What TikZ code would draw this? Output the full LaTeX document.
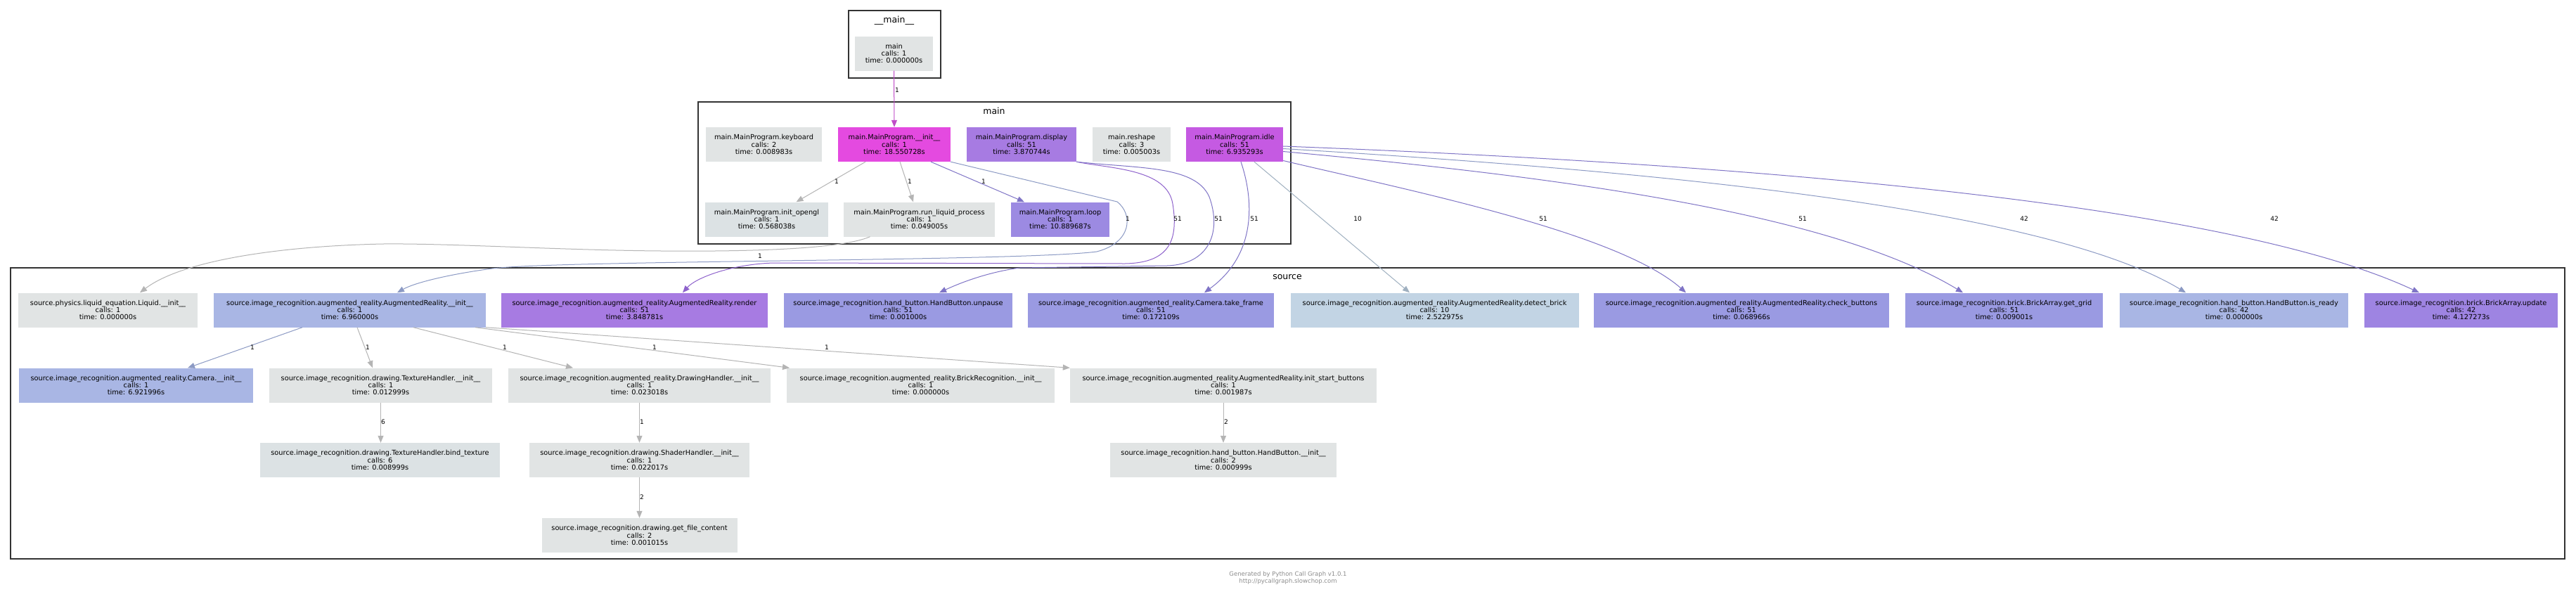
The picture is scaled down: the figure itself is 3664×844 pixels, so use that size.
\documentclass[tikz,border=0pt]{standalone}
\usepackage{fontspec}
\setmainfont{DejaVu Sans}
\usetikzlibrary{arrows.meta}
\definecolor{ngray}{HTML}{E1E4E4}
\definecolor{ngrayb}{HTML}{DCE2E4}
\definecolor{nmag}{HTML}{E44AE0}
\definecolor{nidle}{HTML}{C55AE2}
\definecolor{nviolet}{HTML}{A77BE2}
\definecolor{nloop}{HTML}{9C8AE2}
\definecolor{nperi}{HTML}{9A9AE2}
\definecolor{nsky}{HTML}{C2D4E4}
\definecolor{nlav}{HTML}{A9B6E4}
\definecolor{nupd}{HTML}{9E84E2}
\definecolor{egray}{HTML}{B4B4B4}
\definecolor{emag}{HTML}{C04CC8}
\definecolor{eviolet}{HTML}{8E62CC}
\definecolor{eperi}{HTML}{7F74C6}
\definecolor{eblue}{HTML}{8C9AC4}
\definecolor{esky}{HTML}{9FB0C0}
\definecolor{frame}{HTML}{333333}
\def\fnfont{\fontsize{9.8}{10.3}\selectfont}

\begin{document}
\begin{tikzpicture}[x=1pt, y=-1pt,
		fn/.style={rectangle, inner sep=0pt, minimum height=49pt, align=center, font=\fnfont},
		clus/.style={draw=frame, line width=2pt},
		clab/.style={font=\fontsize{12.5}{14}\selectfont},
		lbl/.style={font=\fontsize{9}{10}\selectfont, text=black, inner sep=0pt},
		call/.style={-{Triangle[length=10pt,width=8pt]}, line width=1pt}]
			%%%%% START %%%%%
			
			\fill[white] (0,0) rectangle (3664,844);
			\useasboundingbox (0,0) rectangle (3664,844);
			
			% clusters
			\draw[clus] (1207,15) rectangle (1338,111);
			\node[clab] (lmain) at (1272,29) {\_\_main\_\_};
			\draw[clus] (993,145) rectangle (1836,347);
			\node[clab] (lmainprog) at (1414,158) {main};
			\draw[clus] (15,381) rectangle (3648,795);
			\node[clab] (lsource) at (1831,394) {source};
			
			% __main__
			\node[fn, fill=ngray, minimum width=111pt] (mainfn) at (1271.5,76) {main\\calls: 1\\time: 0.000000s};
			
			% main
			\node[fn, fill=ngray, minimum width=165pt] (keyboard) at (1086.5,205.5) {main.MainProgram.keyboard\\calls: 2\\time: 0.008983s};
			\node[fn, fill=nmag, minimum width=160pt] (mpinit) at (1272,205.5) {main.MainProgram.\_\_init\_\_\\calls: 1\\time: 18.550728s};
			\node[fn, fill=nviolet, minimum width=156pt] (display) at (1453,205.5) {main.MainProgram.display\\calls: 51\\time: 3.870744s};
			\node[fn, fill=ngray, minimum width=111pt] (reshape) at (1609.5,205.5) {main.reshape\\calls: 3\\time: 0.005003s};
			\node[fn, fill=nidle, minimum width=138pt] (idle) at (1756,205.5) {main.MainProgram.idle\\calls: 51\\time: 6.935293s};
			\node[fn, fill=ngrayb, minimum width=175pt] (opengl) at (1090.5,312) {main.MainProgram.init\_opengl\\calls: 1\\time: 0.568038s};
			\node[fn, fill=ngray, minimum width=215pt] (runliq) at (1307.5,312) {main.MainProgram.run\_liquid\_process\\calls: 1\\time: 0.049005s};
			\node[fn, fill=nloop, minimum width=140pt] (loop) at (1508,312) {main.MainProgram.loop\\calls: 1\\time: 10.889687s};
			
			% source
			\node[fn, fill=ngray, minimum width=255pt] (liquid) at (153.5,441) {source.physics.liquid\_equation.Liquid.\_\_init\_\_\\calls: 1\\time: 0.000000s};
			\node[fn, fill=nlav, minimum width=387pt] (arinit) at (497.5,441) {source.image\_recognition.augmented\_reality.AugmentedReality.\_\_init\_\_\\calls: 1\\time: 6.960000s};
			\node[fn, fill=nviolet, minimum width=379pt] (render) at (902.5,441) {source.image\_recognition.augmented\_reality.AugmentedReality.render\\calls: 51\\time: 3.848781s};
			\node[fn, fill=nperi, minimum width=325pt] (unpause) at (1277.5,441) {source.image\_recognition.hand\_button.HandButton.unpause\\calls: 51\\time: 0.001000s};
			\node[fn, fill=nperi, minimum width=350pt] (takeframe) at (1637,441) {source.image\_recognition.augmented\_reality.Camera.take\_frame\\calls: 51\\time: 0.172109s};
			\node[fn, fill=nsky, minimum width=410pt] (detect) at (2040.5,441) {source.image\_recognition.augmented\_reality.AugmentedReality.detect\_brick\\calls: 10\\time: 2.522975s};
			\node[fn, fill=nperi, minimum width=420pt] (checkbtn) at (2477,441) {source.image\_recognition.augmented\_reality.AugmentedReality.check\_buttons\\calls: 51\\time: 0.068966s};
			\node[fn, fill=nperi, minimum width=281pt] (getgrid) at (2850.5,441) {source.image\_recognition.brick.BrickArray.get\_grid\\calls: 51\\time: 0.009001s};
			\node[fn, fill=nlav, minimum width=325pt] (isready) at (3177.5,441) {source.image\_recognition.hand\_button.HandButton.is\_ready\\calls: 42\\time: 0.000000s};
			\node[fn, fill=nupd, minimum width=275pt] (update) at (3500.5,441) {source.image\_recognition.brick.BrickArray.update\\calls: 42\\time: 4.127273s};
			
			\node[fn, fill=nlav, minimum width=333pt] (camera) at (193.5,548) {source.image\_recognition.augmented\_reality.Camera.\_\_init\_\_\\calls: 1\\time: 6.921996s};
			\node[fn, fill=ngray, minimum width=317pt] (texture) at (541.5,548) {source.image\_recognition.drawing.TextureHandler.\_\_init\_\_\\calls: 1\\time: 0.012999s};
			\node[fn, fill=ngray, minimum width=373pt] (drawing) at (909.5,548) {source.image\_recognition.augmented\_reality.DrawingHandler.\_\_init\_\_\\calls: 1\\time: 0.023018s};
			\node[fn, fill=ngray, minimum width=381pt] (brickrec) at (1309.5,548) {source.image\_recognition.augmented\_reality.BrickRecognition.\_\_init\_\_\\calls: 1\\time: 0.000000s};
			\node[fn, fill=ngray, minimum width=436pt] (startbtn) at (1740,548) {source.image\_recognition.augmented\_reality.AugmentedReality.init\_start\_buttons\\calls: 1\\time: 0.001987s};
			
			\node[fn, fill=ngrayb, minimum width=341pt] (bindtex) at (540.5,654.5) {source.image\_recognition.drawing.TextureHandler.bind\_texture\\calls: 6\\time: 0.008999s};
			\node[fn, fill=ngray, minimum width=313pt] (shader) at (909.5,654.5) {source.image\_recognition.drawing.ShaderHandler.\_\_init\_\_\\calls: 1\\time: 0.022017s};
			\node[fn, fill=ngray, minimum width=322pt] (handinit) at (1740,654.5) {source.image\_recognition.hand\_button.HandButton.\_\_init\_\_\\calls: 2\\time: 0.000999s};
			\node[fn, fill=ngray, minimum width=278pt] (filecontent) at (909.5,761.5) {source.image\_recognition.drawing.get\_file\_content\\calls: 2\\time: 0.001015s};
			
			% calls
			\draw[call, emag] (mainfn.south) -- (mpinit.north) node[lbl] at (1276,128) {1};
			\draw[call, egray] ([xshift=-41pt]mpinit.south) -- ([xshift=42pt]opengl.north) node[lbl] at (1190,258) {1};
			\draw[call, egray] ([xshift=8pt]mpinit.south) -- ([xshift=-8.5pt]runliq.north) node[lbl] at (1294,258) {1};
			\draw[call, eperi] ([xshift=52pt]mpinit.south) -- ([xshift=-51pt]loop.north) node[lbl] at (1399,258) {1};
			\draw[call, eblue] (mpinit.south east) -- (1589,287) .. controls (1612,305) and (1610,345) .. (1560,358) .. controls (1450,372) and (800,370) .. (700,382) .. controls (640,390) and (590,402) .. ([xshift=67.5pt]arinit.north) node[lbl] at (1604,311) {1};
			\draw[call, egray] ([xshift=-70pt]runliq.south) .. controls (1195,355) and (1060,358) .. (941,357) .. controls (800,356) and (640,346) .. (545,347) .. controls (400,350) and (260,370) .. ([xshift=45.5pt]liquid.north) node[lbl] at (1081,364) {1};
			\draw[call, eviolet] (display.south east) .. controls (1580,240) and (1660,240) .. (1668,290) .. controls (1676,340) and (1665,374) .. (1600,375) -- (1100,374) .. controls (1040,376) and (990,395) .. ([xshift=68.5pt]render.north) node[lbl] at (1675,311) {51};
			\draw[call, eperi] (display.south east) .. controls (1620,240) and (1700,235) .. (1720,280) .. controls (1738,330) and (1720,376) .. (1660,378) -- (1450,381) .. controls (1400,388) and (1360,405) .. ([xshift=58.5pt]unpause.north) node[lbl] at (1733,311) {51};
			\draw[call, eperi] ([xshift=9pt]idle.south) .. controls (1782,280) and (1790,360) .. ([xshift=76pt]takeframe.north) node[lbl] at (1784,311) {51};
			\draw[call, esky] ([xshift=28pt]idle.south) -- ([xshift=-35.5pt]detect.north) node[lbl] at (1931,311) {10};
			\draw[call, eperi] ([yshift=-23pt]idle.east) .. controls (2000,270) and (2300,330) .. ([xshift=-79pt]checkbtn.north) node[lbl] at (2195,311) {51};
			\draw[call, eperi] ([yshift=-10pt]idle.east) .. controls (2200,250) and (2600,300) .. ([xshift=-58.5pt]getgrid.north) node[lbl] at (2564,311) {51};
			\draw[call, eblue] ([yshift=-6pt]idle.east) .. controls (2300,240) and (2900,290) .. ([xshift=-68.5pt]isready.north) node[lbl] at (2879,311) {42};
			\draw[call, eperi] ([yshift=-2.5pt]idle.east) .. controls (2400,230) and (3150,280) .. ([xshift=-59.5pt]update.north) node[lbl] at (3235,311) {42};
			
			\draw[call, eblue] ([xshift=-67.5pt]arinit.south) -- ([xshift=73.5pt]camera.north) node[lbl] at (359,494) {1};
			\draw[call, egray] ([xshift=10.5pt]arinit.south) -- ([xshift=-11.5pt]texture.north) node[lbl] at (523,494) {1};
			\draw[call, egray] ([xshift=90.5pt]arinit.south) -- ([xshift=-94.5pt]drawing.north) node[lbl] at (718,494) {1};
			\draw[call, egray] ([xshift=178.5pt]arinit.south) -- ([xshift=-186.5pt]brickrec.north) node[lbl] at (931,494) {1};
			\draw[call, egray] (arinit.south east) -- (startbtn.north west) node[lbl] at (1176,494) {1};
			\draw[call, egray] (texture.south) -- ([xshift=1pt]bindtex.north) node[lbl] at (545,600) {6};
			\draw[call, egray] (drawing.south) -- (shader.north) node[lbl] at (913,600) {1};
			\draw[call, egray] (shader.south) -- (filecontent.north) node[lbl] at (913,707) {2};
			\draw[call, egray] (startbtn.south) -- (handinit.north) node[lbl] at (1744,600) {2};
			
			% footer
			\node[font=\fontsize{8.5}{10}\selectfont, text=black!45, align=center] (footer) at (1832,822) {Generated by Python Call Graph v1.0.1\\http://pycallgraph.slowchop.com};
			
			%%%%% END %%%%%
		\end{tikzpicture}
\end{document}
